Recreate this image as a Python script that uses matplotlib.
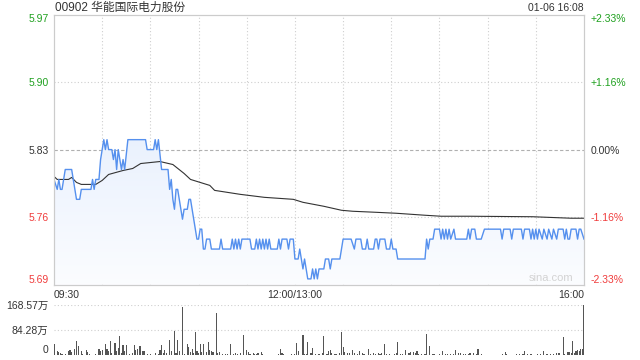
import numpy as np
import matplotlib.pyplot as plt
from matplotlib.patches import Polygon

plt.rcParams['font.family'] = ['Liberation Sans', 'Noto Sans CJK SC', 'DejaVu Sans']

# 数据：分钟(自 09:30 起，午休已去掉)与价格
prev_close = 5.83
pct_range = 0.0233

price_min = [0, 2, 3, 4, 5, 7, 11, 12, 14, 16, 17, 23, 24, 25, 26, 28, 29, 30, 31, 32,
             33, 34, 36, 37, 38, 39, 40, 41, 42, 43, 44, 46, 57, 58, 62, 63, 64, 65, 67, 71,
             72, 73, 74, 75, 76, 77, 78, 79, 80, 81, 83, 84, 85, 86, 87, 88, 89, 90, 91, 92,
             93, 94, 95, 97, 98, 103, 104, 105, 110, 111, 112, 113, 114, 115, 116, 117, 122, 123, 125, 126,
             127, 128, 129, 130, 131, 132, 133, 134, 135, 139, 140, 141, 142, 145, 146, 147, 149, 150, 152, 153,
             154, 155, 156, 157, 158, 160, 161, 162, 163, 164, 165, 168, 169, 171, 172, 173, 178, 180, 185, 187,
             188, 191, 192, 194, 195, 196, 199, 200, 201, 202, 203, 206, 207, 209, 210, 211, 213, 214, 231, 232,
             233, 234, 236, 237, 240, 241, 242, 243, 244, 245, 246, 247, 249, 250, 257, 258, 259, 260, 262, 263,
             266, 268, 278, 279, 280, 284, 285, 286, 291, 292, 293, 296, 297, 298, 299, 300, 301, 302, 304, 305,
             307, 308, 310, 311, 313, 314, 317, 318, 319, 320, 321, 322, 325, 326, 327, 328, 330]
price_val = [5.80, 5.79, 5.80, 5.79, 5.79, 5.81, 5.81, 5.80, 5.78, 5.78, 5.79, 5.79, 5.80, 5.79, 5.80, 5.80, 5.82, 5.83, 5.84, 5.83,
             5.84, 5.83, 5.83, 5.82, 5.83, 5.81, 5.83, 5.82, 5.81, 5.82, 5.81, 5.84, 5.84, 5.83, 5.83, 5.84, 5.83, 5.84, 5.81, 5.81,
             5.79, 5.80, 5.78, 5.77, 5.79, 5.79, 5.78, 5.77, 5.76, 5.77, 5.77, 5.78, 5.78, 5.77, 5.76, 5.75, 5.74, 5.74, 5.75, 5.75,
             5.73, 5.73, 5.74, 5.74, 5.73, 5.73, 5.74, 5.73, 5.73, 5.74, 5.73, 5.74, 5.73, 5.74, 5.73, 5.74, 5.74, 5.73, 5.73, 5.74,
             5.73, 5.74, 5.73, 5.74, 5.73, 5.74, 5.73, 5.74, 5.73, 5.73, 5.74, 5.73, 5.74, 5.74, 5.73, 5.74, 5.74, 5.72, 5.72, 5.73,
             5.72, 5.71, 5.72, 5.71, 5.70, 5.70, 5.71, 5.70, 5.71, 5.70, 5.71, 5.71, 5.72, 5.72, 5.71, 5.72, 5.72, 5.74, 5.74, 5.73,
             5.74, 5.74, 5.73, 5.73, 5.74, 5.73, 5.73, 5.74, 5.74, 5.73, 5.74, 5.74, 5.73, 5.73, 5.74, 5.73, 5.73, 5.72, 5.72, 5.74,
             5.73, 5.74, 5.74, 5.75, 5.75, 5.74, 5.75, 5.74, 5.75, 5.74, 5.75, 5.74, 5.75, 5.74, 5.74, 5.75, 5.74, 5.75, 5.75, 5.74,
             5.74, 5.75, 5.75, 5.74, 5.75, 5.75, 5.74, 5.75, 5.75, 5.74, 5.75, 5.75, 5.74, 5.75, 5.74, 5.75, 5.74, 5.75, 5.74, 5.75,
             5.74, 5.75, 5.74, 5.75, 5.74, 5.75, 5.75, 5.74, 5.75, 5.74, 5.74, 5.75, 5.75, 5.74, 5.75, 5.75, 5.74]

avg_min = [0, 2, 9, 11, 14, 17, 26, 30, 34, 43, 49, 54, 66, 74, 81, 85, 93, 97, 100, 116,
           131, 149, 155, 168, 179, 186, 200, 213, 222, 231, 241, 259, 298, 322, 330]
avg_val = [5.803, 5.800, 5.800, 5.802, 5.797, 5.795, 5.795, 5.799, 5.805, 5.809, 5.811, 5.816, 5.818, 5.815, 5.806,
           5.800, 5.796, 5.794, 5.789, 5.785, 5.782, 5.780, 5.777, 5.773, 5.769, 5.768, 5.767, 5.766, 5.765, 5.764,
           5.763, 5.763, 5.7625, 5.761, 5.761]

# 成交量(万)
vol_min = [0, 2, 3, 4, 5, 7, 9, 10, 11, 13, 14, 15, 17, 18, 20, 21, 22, 24, 26, 28,
           29, 30, 32, 33, 34, 35, 36, 38, 39, 40, 41, 42, 43, 44, 45, 47, 49, 50, 51, 52,
           53, 54, 55, 56, 58, 60, 62, 63, 65, 66, 67, 68, 69, 70, 72, 73, 75, 76, 77, 78,
           80, 81, 83, 84, 85, 86, 87, 88, 89, 90, 91, 92, 93, 95, 96, 97, 98, 99, 101, 102,
           103, 105, 107, 108, 110, 112, 113, 114, 116, 118, 120, 121, 122, 124, 125, 126, 127, 129, 130, 132,
           135, 138, 140, 141, 142, 143, 146, 148, 150, 151, 152, 155, 156, 157, 158, 160, 161, 163, 165, 167,
           168, 170, 171, 172, 173, 175, 176, 178, 179, 180, 181, 183, 184, 186, 187, 189, 190, 192, 193, 196,
           197, 199, 200, 202, 203, 204, 206, 207, 209, 210, 212, 213, 214, 216, 217, 219, 221, 222, 224, 225,
           226, 227, 229, 231, 232, 234, 236, 237, 239, 240, 242, 244, 245, 247, 249, 250, 252, 253, 255, 256,
           258, 259, 261, 263, 264, 266, 267, 269, 271, 273, 276, 278, 279, 281, 282, 284, 286, 288, 290, 292,
           293, 295, 297, 299, 301, 303, 305, 307, 309, 311, 313, 314, 315, 317, 318, 320, 321, 322, 323, 324,
           325, 326, 327, 328, 329, 330]
vol_val = [37.7, 15.5, 11, 8, 5, 4, 13, 18, 11, 21, 49, 30, 15.5, 4, 18, 11, 4, 2, 4, 21,
           13, 18, 38, 21, 13, 49, 8, 41, 13, 24, 65, 8, 33, 15.5, 33, 4, 8, 33, 18, 21,
           30, 30, 13, 15.5, 4, 4, 2, 8, 4, 19, 35.5, 8, 18, 8, 51, 15.5, 80, 8, 52, 13,
           161, 4, 38, 28, 11, 21, 8, 78, 13, 8, 38, 11, 38, 11, 44, 18, 13, 11, 141, 8,
           11, 4, 4, 4, 38, 4, 8, 4, 8, 68, 18, 11, 4, 8, 4, 4, 8, 11, 4, 2,
           2, 2, 4, 21, 8, 4, 2, 4, 4, 41, 15.5, 68, 4, 4, 44, 8, 24, 4, 4, 8,
           63, 4, 15.5, 18, 8, 4, 4, 8, 78, 27, 11, 8, 8, 18, 8, 4, 13, 8, 4, 21,
           4, 8, 4, 8, 4, 8, 38, 4, 4, 2, 4, 8, 44, 4, 4, 18, 8, 11, 11, 8,
           13, 4, 4, 4, 71, 30, 4, 4, 2, 4, 13, 4, 4, 4, 4, 18, 8, 8, 4, 4,
           4, 8, 8, 4, 21, 4, 2, 2, 2, 2, 2, 2, 4, 11, 4, 2, 2, 4, 4, 4,
           13, 4, 4, 2, 4, 4, 13, 4, 4, 4, 8, 8, 8, 60, 4, 11, 11, 8, 49, 8,
           13, 18, 13, 21, 21, 168.57]

x_ticks = [0, 150, 330]
x_labels = ['09:30', '12:00/13:00', '16:00']
y_labels = ['5.69', '5.76', '5.83', '5.90', '5.97']
pct_labels = ['-2.33%', '-1.16%', '0.00%', '+1.16%', '+2.33%']
vol_labels = ['0', '84.28万', '168.57万']

green = '#1ea01e'
red = '#f03c3c'
label_colors = [red, red, '#333333', green, green]

lo = prev_close * (1 - pct_range)
hi = prev_close * (1 + pct_range)
y_ticks = [lo, prev_close * (1 - 0.0116), prev_close, prev_close * (1 + 0.0116), hi]

fig = plt.figure(figsize=(6.4, 3.6), dpi=100)
ax = fig.add_axes([54 / 640, 1 - 284.7 / 360, 530 / 640, 270.2 / 360])
ax.set_xlim(0, 330)
ax.set_ylim(lo, hi)

# 网格
for m in range(30, 330, 30):
    ax.axvline(m, color='#cfcfcf', lw=0.8, ls=(0, (1, 2)), zorder=1)
for y in [y_ticks[1], y_ticks[3]]:
    ax.axhline(y, color='#cfcfcf', lw=0.8, ls=(0, (1, 2)), zorder=1)
ax.axhline(prev_close, color='#b0b0b0', lw=0.8, ls=(0, (3, 2)), zorder=1)

# 价格线下方的渐变填充
pts = list(zip(price_min, price_val)) + [(price_min[-1], lo), (price_min[0], lo)]
poly = Polygon(pts, closed=True, facecolor='none', edgecolor='none')
ax.add_patch(poly)
grad = np.linspace(0, 1, 256).reshape(-1, 1)
top_c = np.array([0.86, 0.91, 0.99])
bot_c = np.array([0.985, 0.99, 1.0])
img = top_c * (1 - grad[..., None]) + bot_c * grad[..., None]
im = ax.imshow(img, extent=(0, 330, lo, hi), origin='upper', aspect='auto', zorder=2)
im.set_clip_path(poly)

ax.plot(price_min, price_val, color='#5590ee', lw=1.0, zorder=4)
ax.plot(avg_min, avg_val, color='#333333', lw=0.8, zorder=3)

ax.set_xticks(x_ticks)
ax.set_xticklabels(x_labels, fontsize=7.5, color='#333333')
ax.get_xticklabels()[0].set_ha('left')
ax.get_xticklabels()[-1].set_ha('right')
ax.tick_params(axis='x', length=0, pad=4)

ax.set_yticks(y_ticks)
ax.set_yticklabels(y_labels, fontsize=7.5)
ax.tick_params(axis='y', length=0, pad=4)
for lab, c in zip(ax.get_yticklabels(), label_colors):
    lab.set_color(c)
ax.get_yticklabels()[0].set_va('bottom')
ax.get_yticklabels()[-1].set_va('top')

ax2 = ax.twinx()
ax2.set_ylim(lo, hi)
ax2.set_yticks(y_ticks)
ax2.set_yticklabels(pct_labels, fontsize=7.5)
ax2.tick_params(axis='y', length=0, pad=5)
for lab, c in zip(ax2.get_yticklabels(), label_colors):
    lab.set_color(c)
ax2.get_yticklabels()[0].set_va('bottom')
ax2.get_yticklabels()[-1].set_va('top')

for a in (ax, ax2):
    for s in a.spines.values():
        s.set_color('#cccccc')
        s.set_linewidth(0.8)

ax.text(0.98, 0.025, 'sina.com', transform=ax.transAxes, ha='right', va='center',
        fontsize=8, color='#d3d3d3', zorder=5)

# 成交量
vax = fig.add_axes([54 / 640, 1 - 355.3 / 360, 530 / 640, 50.6 / 360])
vax.set_xlim(0, 330)
vax.set_ylim(0, 168.57)
vax.bar(vol_min, vol_val, width=0.7, color='#555555', linewidth=0, zorder=3)
vax.axhline(84.28, color='#cfcfcf', lw=0.8, ls=(0, (1, 2)), zorder=1)
vax.axhline(168.57, color='#cfcfcf', lw=0.8, ls=(0, (1, 2)), zorder=1)
vax.set_xticks([])
vax.set_yticks([0, 84.28, 168.57])
vax.set_yticklabels(vol_labels, fontsize=7.5, color='#333333')
vax.get_yticklabels()[0].set_va('bottom')
vax.tick_params(axis='y', length=0, pad=4)
for s in vax.spines.values():
    s.set_visible(False)

fig.text(55 / 640, 1 - 8 / 360, '00902 华能国际电力股份', fontsize=8.5, color='#333333',
         ha='left', va='center')
fig.text(584 / 640, 1 - 8 / 360, '01-06 16:08', fontsize=7.5, color='#333333',
         ha='right', va='center')

fig.savefig('out.png', dpi=100)
